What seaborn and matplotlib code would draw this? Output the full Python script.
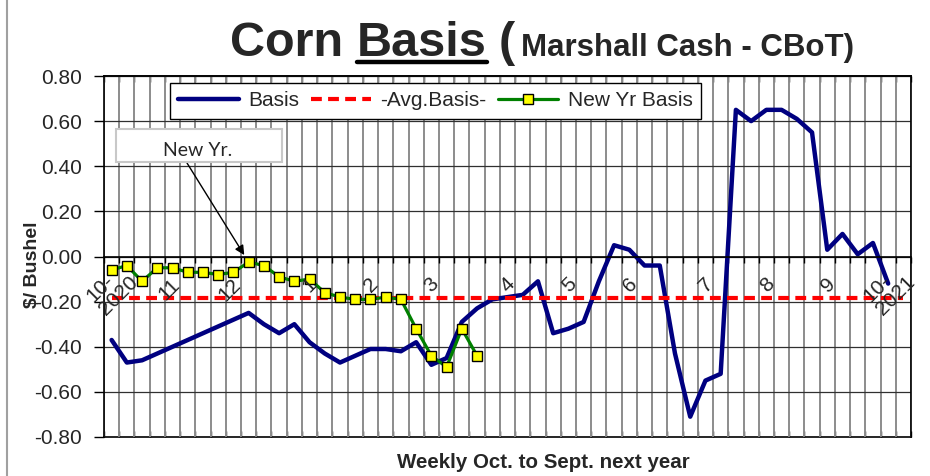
import seaborn as sns
import matplotlib.pyplot as plt
from matplotlib import font_manager
from matplotlib.lines import Line2D
from matplotlib.patches import Rectangle

# weekly basis, week 0 = first week of Oct 2020 ($/bushel)
basis = [-0.37, -0.47, -0.46, -0.43, -0.40, -0.37, -0.34, -0.31, -0.28, -0.25,
         -0.30, -0.34, -0.30, -0.38, -0.43, -0.47, -0.44, -0.41, -0.41, -0.42,
         -0.38, -0.48, -0.45, -0.29, -0.23, -0.19, -0.18, -0.17, -0.11, -0.34,
         -0.32, -0.29, -0.11, 0.05, 0.03, -0.04, -0.04, -0.43, -0.71, -0.55,
         -0.52, 0.65, 0.60, 0.65, 0.65, 0.61, 0.55, 0.03, 0.10, 0.01,
         0.06, -0.12]
new_yr_basis = [-0.06, -0.04, -0.11, -0.05, -0.05, -0.07, -0.07, -0.08, -0.07, -0.025,
                -0.04, -0.09, -0.11, -0.10, -0.16, -0.18, -0.19, -0.19, -0.18, -0.19,
                -0.32, -0.44, -0.49, -0.32, -0.44]
avg_basis = -0.185
n_weeks = 53

month_pos = [0, 4, 8, 13, 17, 21, 26, 30, 34, 39, 43, 47, 51]
month_labels = ["10-\n2020", "11", "12", "1", "2", "3", "4", "5", "6",
                "7", "8", "9", "10-\n2021"]
y_ticks = [-0.8, -0.6, -0.4, -0.2, 0.0, 0.2, 0.4, 0.6, 0.8]

W, H = 930, 476


def px(x, y):
    # figure pixel (from top-left) -> figure fraction
    return x / W, 1 - y / H


def has_font(name):
    try:
        font_manager.findfont(name, fallback_to_default=False)
        return True
    except ValueError:
        return False


def draw_title(fig):
    if has_font("Liberation Sans Narrow"):
        fam, big, small = "Liberation Sans Narrow", 41, 26.5
    else:
        fam, big, small = "Liberation Sans", 35, 22.5
    pieces = [("Corn", big, 230), ("Basis", big, 14), ("(", big, 12),
              ("Marshall Cash - CBoT)", small, 6)]
    r = fig.canvas.get_renderer()
    x = 0
    basis_bb = None
    for i, (txt, size, gap) in enumerate(pieces):
        x = gap if i == 0 else x + gap
        t = fig.text(*px(x, 56), txt, fontsize=size, fontweight="bold",
                     family=fam, ha="left", va="baseline")
        bb = t.get_window_extent(renderer=r)
        x = bb.x1
        if txt == "Basis":
            basis_bb = bb
    fig.add_artist(Line2D([basis_bb.x0 / W, basis_bb.x1 / W],
                          [1 - 62 / H, 1 - 62 / H], color="black", lw=3.2,
                          transform=fig.transFigure))


def main():
    sns.set_theme(style="white")
    plt.rcParams["font.family"] = ["Liberation Sans", "DejaVu Sans"]

    fig = plt.figure(figsize=(W / 100, H / 100), dpi=100)
    ax = fig.add_axes([104 / W, 1 - 437 / H, 807 / W, 361 / H])

    weeks = list(range(len(basis)))
    sns.lineplot(x=weeks, y=basis, ax=ax, color="#000080", lw=3.2, label="Basis")
    avg = [avg_basis] * n_weeks
    sns.lineplot(x=list(range(n_weeks)), y=avg, ax=ax, color="#ff0000", lw=3.0,
                 label="-Avg.Basis-")
    ax.lines[-1].set_dashes((2.6, 1.5))
    sns.lineplot(x=list(range(len(new_yr_basis))), y=new_yr_basis, ax=ax,
                 color="#008000", lw=2.3, marker="s", markersize=7,
                 markerfacecolor="#ffff00", markeredgecolor="black",
                 markeredgewidth=1.0, label="New Yr Basis")

    ax.set_xlim(-0.5, n_weeks - 0.5)
    ax.set_ylim(-0.8, 0.8)
    ax.set_xlabel("")
    ax.set_ylabel("")

    # category boundaries -> gridlines and tick marks on the zero line
    bounds = [i - 0.5 for i in range(n_weeks + 1)]
    ax.set_xticks(bounds)
    ax.set_xticklabels([])
    ax.tick_params(axis="x", which="major", direction="out", length=4,
                   width=1, color="black", bottom=True)
    ax.spines["bottom"].set_position(("data", 0))

    # month labels, rotated, hanging under the zero line
    for pos, lab in zip(month_pos, month_labels):
        off = (3, -2) if "\n" in lab else (-1.5, -13)
        ax.annotate(lab, xy=(pos, 0), xytext=off,
                    textcoords="offset points", rotation=45, ha="right",
                    va="top", rotation_mode="anchor", multialignment="left",
                    linespacing=0.95, fontsize=15, annotation_clip=False)

    ax.set_yticks(y_ticks, labels=[f"{v:.2f}" for v in y_ticks])
    ax.tick_params(axis="y", direction="out", length=7, width=1, color="black",
                   pad=9, labelsize=15, left=True)

    ax.grid(axis="x", which="major", color="#8c8c8c", lw=1.4)
    ax.grid(axis="y", color="#303030", lw=0.9)
    ax.set_axisbelow(True)
    for s in ax.spines.values():
        s.set_color("black")
        s.set_linewidth(1.2)

    for loc in ["top", "bottom"]:
        sec = ax.secondary_xaxis(loc)
        sec.set_xticks(bounds)
        sec.set_xticklabels([])
        sec.tick_params(direction="in", length=4, width=1, color="black")
        sec.spines[loc].set_color("black")
        sec.spines[loc].set_linewidth(1.2)

    leg = ax.legend(loc="upper left", bbox_to_anchor=px(170, 83),
                    bbox_transform=fig.transFigure, ncol=3, fontsize=15,
                    frameon=True, fancybox=False, framealpha=1, borderaxespad=0,
                    handlelength=2.9, handletextpad=0.45, columnspacing=0.55,
                    borderpad=0.4)
    leg.get_frame().set_edgecolor("black")
    leg.get_frame().set_linewidth(1.0)

    draw_title(fig)

    fig.text(*px(32, 265), "$/ Bushel", fontsize=14, fontweight="bold",
             rotation=90, ha="center", va="center")
    fig.text(*px(543, 463), "Weekly Oct. to Sept. next year", fontsize=14.8,
             fontweight="bold", ha="center", va="center")

    # New Yr. callout
    x0, y0 = px(116, 162)
    x1, y1 = px(282, 129)
    fig.add_artist(Rectangle((x0, y0), x1 - x0, y1 - y0, transform=fig.transFigure,
                             facecolor="white", edgecolor="#c8c8c8", lw=1.5,
                             zorder=5))
    fig.text(*px(198, 150), "New Yr.", fontsize=14, family=["Lato", "DejaVu Sans"],
             ha="center", va="center", zorder=6)
    ax.annotate("", xy=(9, new_yr_basis[9]), xytext=px(187, 163),
                textcoords="figure fraction",
                arrowprops=dict(arrowstyle="-|>", color="black", lw=1.0,
                                mutation_scale=14, shrinkA=0, shrinkB=6))

    # spreadsheet edge on the left
    fig.add_artist(Line2D([7 / W, 7 / W], [0, 1], color="#a0a0a0", lw=1.5,
                          transform=fig.transFigure))

    fig.savefig("out.png", dpi=100)


if __name__ == "__main__":
    main()
